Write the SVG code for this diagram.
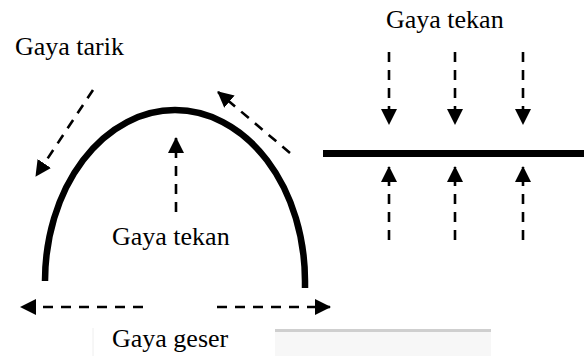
<svg xmlns="http://www.w3.org/2000/svg" width="584" height="356" viewBox="0 0 584 356">
<style>
.dash{stroke:#000;stroke-width:2.6;stroke-dasharray:10 8;fill:none}
.solid{stroke:#000;fill:none}
</style>
<defs>
<marker id="ah" viewBox="0 0 16 16" refX="15" refY="8" markerWidth="16" markerHeight="16" markerUnits="userSpaceOnUse" orient="auto">
<path d="M0,0 L16,8 L0,16 Z" fill="#000"/>
</marker>
</defs>
<rect width="584" height="356" fill="#fff"/>
<g id="artifact">
<rect x="275" y="329" width="216" height="3" fill="#cfcfcf"/>
<rect x="275" y="332" width="216" height="24" fill="#f7f7f7"/>
<line x1="93" y1="328" x2="93" y2="356" stroke="#eee" stroke-width="1"/>
</g>
<g id="arch">
<path class="solid" stroke-width="6.5" d="M45,281 A130,171 0 0 1 305,281 L305,288"/>
</g>
<g id="beam">
<line class="solid" stroke-width="7" x1="323" y1="153.5" x2="584" y2="153.5"/>
</g>
<g id="connectors">
<line class="dash" x1="93" y1="90" x2="36" y2="176" marker-end="url(#ah)"/>
<line class="dash" x1="290" y1="153" x2="218" y2="92" marker-end="url(#ah)"/>
<line class="dash" x1="176" y1="212" x2="176" y2="138" marker-end="url(#ah)"/>
<line class="dash" x1="389" y1="52" x2="389" y2="124" marker-end="url(#ah)"/>
<line class="dash" x1="455" y1="52" x2="455" y2="124" marker-end="url(#ah)"/>
<line class="dash" x1="523" y1="52" x2="523" y2="124" marker-end="url(#ah)"/>
<line class="dash" x1="389" y1="240" x2="389" y2="167" marker-end="url(#ah)"/>
<line class="dash" x1="455" y1="240" x2="455" y2="167" marker-end="url(#ah)"/>
<line class="dash" x1="523" y1="240" x2="523" y2="167" marker-end="url(#ah)"/>
<line class="dash" x1="143" y1="307" x2="21" y2="307" marker-end="url(#ah)"/>
<line class="dash" x1="217" y1="307" x2="330" y2="307" marker-end="url(#ah)"/>
</g>
<g id="labels" font-family="'Liberation Serif', 'Times New Roman', serif" font-size="26" fill="#000">
<text x="15" y="55">Gaya tarik</text>
<text x="386" y="28">Gaya tekan</text>
<text x="112" y="245">Gaya tekan</text>
<text x="112" y="347">Gaya geser</text>
</g>
</svg>
